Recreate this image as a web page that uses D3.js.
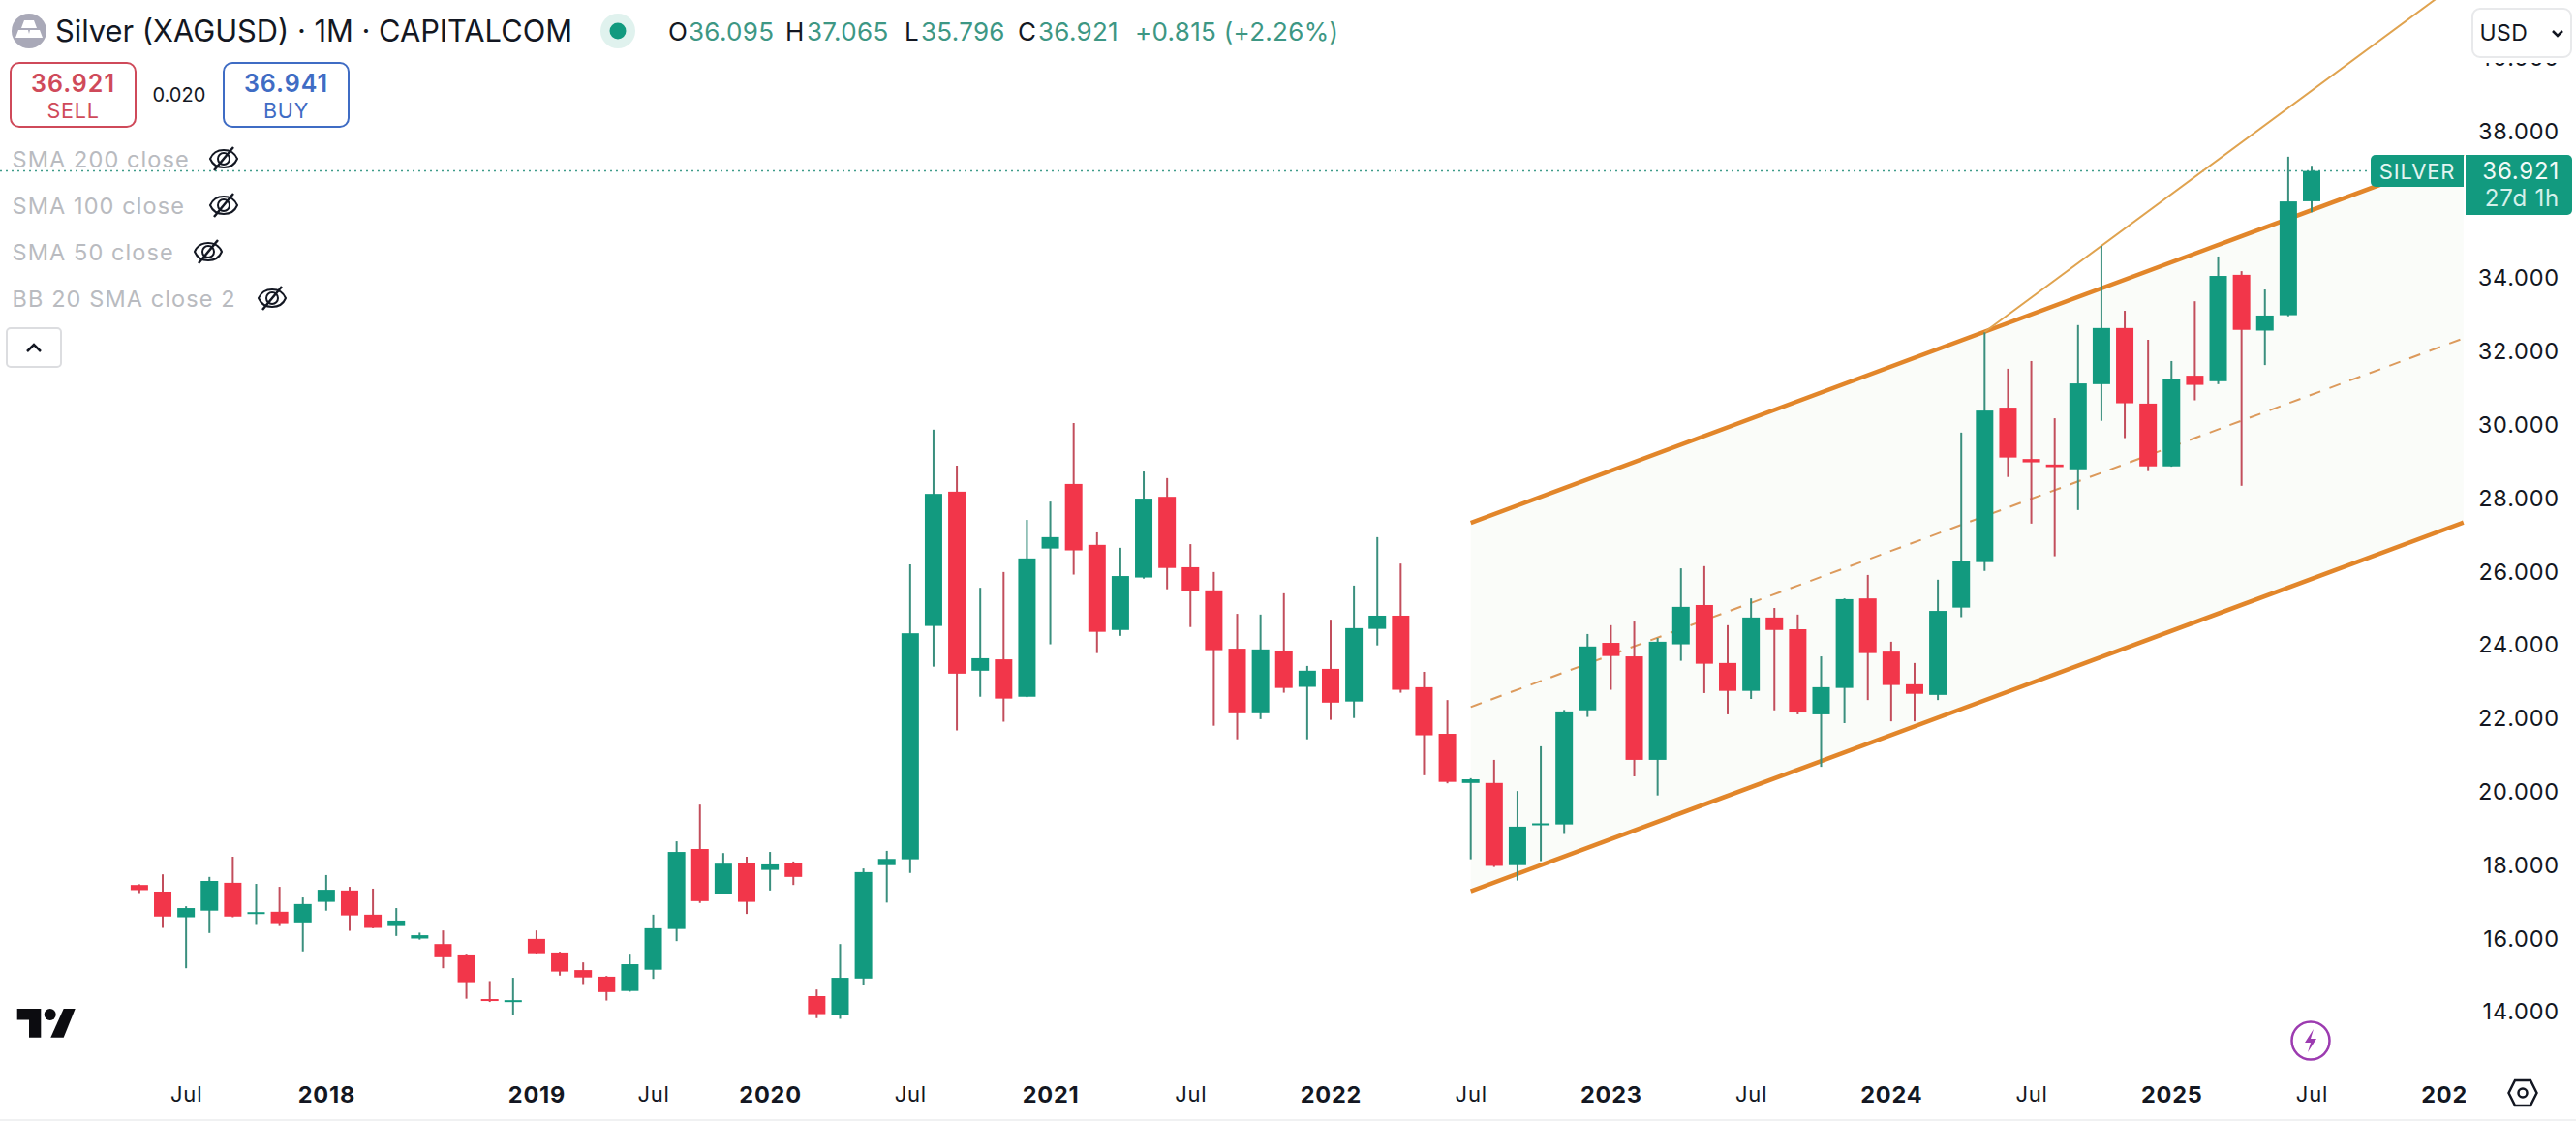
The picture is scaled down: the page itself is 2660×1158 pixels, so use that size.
<!DOCTYPE html>
<html lang="en">
<head>
<meta charset="UTF-8">
<title>Silver (XAGUSD) 1M</title>
<script src="https://d3js.org/d3.v7.min.js"></script>
<style>
  body { margin: 0; background: #fff; }
  svg { display: block; font-family: Inter, sans-serif; }
  .axis path { display: none; }
  .axis text { font-family: Inter, sans-serif; font-size: 23.5px; fill: #131722; letter-spacing: 0.8px; }
  .ind { font-size: 23.5px; fill: #b9bbc0; letter-spacing: 1.1px; }
</style>
</head>
<body>
<div id="chart"></div>
<script>
  // monthly candles, May 2017 onward (the feed skips a few months, so x is by candle number)
  const opens = [17.46,17.28,16.58,16.76,17.52,16.68,16.73,16.44,17.00,17.31,16.65,16.34,16.00,15.85,15.54,14.35,14.28,15.99,15.62,15.14,14.96,14.57,15.15,16.26,18.44,17.21,18.07,17.87,18.07,14.43,13.91,14.91,18.00,18.16,24.52,28.18,23.30,23.61,22.59,26.63,28.39,26.73,24.41,25.84,28.04,26.12,25.49,23.90,22.14,23.85,22.86,23.35,22.46,24.44,24.80,22.85,21.58,20.24,20.24,18.00,19.09,19.11,22.22,24.06,23.69,20.87,24.02,25.09,23.51,22.75,24.75,24.43,22.11,22.83,25.27,23.82,22.93,22.64,25.02,26.26,30.47,29.07,28.92,28.79,31.11,32.64,30.58,28.87,31.34,31.19,34.09,32.57,32.99,36.095];
  const highs = [17.48,17.75,16.88,17.68,18.23,17.49,17.41,17.12,17.73,17.41,17.36,16.83,16.16,16.22,15.56,14.84,14.93,16.22,15.64,15.35,14.98,15.56,16.65,18.65,19.65,18.33,18.23,18.36,18.10,14.61,15.85,17.91,18.39,26.20,29.87,28.89,25.56,25.99,27.41,27.91,30.05,27.07,26.65,28.73,28.55,26.75,25.99,24.85,24.83,25.41,23.43,24.69,25.62,26.94,26.22,23.27,22.50,20.37,20.87,20.02,21.24,22.23,24.30,24.54,24.64,24.19,26.09,26.15,24.54,25.27,25.01,24.83,23.69,25.27,25.91,24.09,23.51,25.78,29.79,32.52,31.53,31.74,30.18,32.72,34.88,33.11,32.32,31.74,33.37,34.59,34.19,33.69,37.31,37.065];
  const lows = [17.24,16.29,15.19,16.15,16.58,16.37,16.34,15.65,16.76,16.21,16.28,16.07,15.97,15.19,14.36,14.27,13.91,15.58,14.99,14.76,14.31,14.55,14.90,15.93,16.97,17.20,16.67,17.31,17.46,13.83,13.81,14.73,16.98,17.79,23.41,21.67,22.59,21.91,22.58,24.02,25.92,23.78,24.25,25.81,25.52,24.49,21.80,21.43,21.98,22.70,21.43,21.96,22.01,23.99,22.70,20.45,20.23,18.16,17.95,17.58,18.11,18.85,22.04,22.78,20.42,19.90,23.57,22.69,22.11,22.53,22.22,22.11,20.68,21.87,22.50,21.92,21.92,22.50,24.76,26.02,28.58,27.31,26.42,27.68,30.11,29.64,28.74,28.86,30.67,31.11,28.34,31.63,32.96,35.796];
  const closes = [17.32,16.60,16.83,17.57,16.60,16.72,16.42,16.94,17.33,16.63,16.29,16.49,16.09,15.49,14.81,14.31,14.32,15.60,15.10,14.94,14.54,15.30,16.28,18.36,17.02,18.04,17.00,18.02,17.68,13.94,14.93,17.81,18.17,24.32,28.12,23.22,23.64,22.54,26.36,26.94,26.58,24.36,25.88,27.99,26.10,25.47,23.86,22.14,23.88,22.83,23.30,22.43,24.46,24.80,22.78,21.54,20.27,20.34,17.98,19.05,19.14,22.19,23.96,23.70,20.87,24.09,25.04,23.49,22.75,24.75,24.41,22.16,22.85,25.25,23.78,22.91,22.67,24.93,26.28,30.39,29.11,28.98,28.85,31.13,32.64,30.59,28.87,31.26,31.09,34.06,32.59,32.98,36.09,36.921];

  // 36.000 is covered by the price tag in the picture, 40.000 is cut off under the currency box
  const priceTicks = [14,16,18,20,22,24,26,28,30,32,34,38,40];
  const timeTickIdx = [2,8,17,22,27,33,39,45,51,57,63,69,75,81,87,93,99];
  const timeTickLabels = ["Jul","2018","2019","Jul","2020","Jul","2021","Jul","2022","Jul","2023","Jul","2024","Jul","2025","Jul","2026"];

  // drawn tools, as [candle number, price]
  const channelUpper = [[57,27.33],[99.5,37.39]];
  const channelLower = [[57,17.29],[99.5,27.34]];
  const channelMid = [[57,22.31],[99.5,32.36]];
  const forkLine = [[79,32.53],[99,41.93]];
  const lastPrice = 36.921;

  const width = 2660, height = 1158;
  const green = "#129a7f", red = "#f2364a", greenWick = "#3a8f7e", redWick = "#c24e5c";
  const orange = "#e2862a";

  const x = d3.scaleLinear().domain([0,93]).range([143.9,2387]);
  const y = d3.scaleLinear().domain([14,38]).range([1045.3,135.7]);

  const svg = d3.select("#chart").append("svg")
    .attr("width", width)
    .attr("height", height);

  const defs = svg.append("defs");
  defs.append("clipPath").attr("id","priceClip").append("rect").attr("x",2500).attr("y",65).attr("width",160).attr("height",1000);
  defs.append("clipPath").attr("id","timeClip").append("rect").attr("x",0).attr("y",1090).attr("width",2546).attr("height",60);

  svg.append("rect").attr("x",0).attr("y",1156).attr("width",width).attr("height",2).attr("fill","#f0f1f2");

  const line = d3.line().x(d => x(d[0])).y(d => y(d[1]));

  // channel fill and lines sit under the candles
  svg.append("path")
    .attr("d", line(channelUpper.concat(channelLower.slice().reverse())) + "Z")
    .attr("fill", "#fafcf9");
  svg.append("line")
    .attr("x1",0).attr("x2",2448)
    .attr("y1",y(lastPrice)).attr("y2",y(lastPrice))
    .attr("stroke","#3f9c8a").attr("stroke-width",1.5).attr("stroke-dasharray","2 4");
  svg.append("path").attr("d", line(channelMid)).attr("fill","none")
    .attr("stroke","#dc9a5c").attr("stroke-width",2).attr("stroke-dasharray","12 10");
  [channelUpper, channelLower].forEach(c => {
    svg.append("path").attr("d", line(c)).attr("fill","none")
      .attr("stroke",orange).attr("stroke-width",4.5);
  });
  svg.append("path").attr("d", line(forkLine)).attr("fill","none")
    .attr("stroke","#e0a34f").attr("stroke-width",2);

  const candles = svg.append("g").selectAll("g")
    .data(opens.map((o,i) => ({i, o, h: highs[i], l: lows[i], c: closes[i]})))
    .join("g");
  candles.append("line")
    .attr("x1", d => x(d.i)).attr("x2", d => x(d.i))
    .attr("y1", d => y(d.h)).attr("y2", d => y(d.l))
    .attr("stroke", d => d.c >= d.o ? greenWick : redWick)
    .attr("stroke-width", 2);
  candles.append("rect")
    .attr("x", d => x(d.i) - 9)
    .attr("width", 18)
    .attr("y", d => y(Math.max(d.o,d.c)))
    .attr("height", d => Math.max(2, Math.abs(y(d.o) - y(d.c))))
    .attr("fill", d => d.c >= d.o ? green : red);

  // axes (clip goes on an outer group so the translate doesn't shift it)
  svg.append("g").attr("clip-path","url(#priceClip)").append("g").attr("class","axis")
    .attr("transform","translate(2643,0)")
    .call(d3.axisRight(y).tickValues(priceTicks).tickSize(0).tickPadding(0).tickFormat(d3.format(".3f")))
    .selectAll("text").attr("text-anchor","end");

  const timeAxis = svg.append("g").attr("clip-path","url(#timeClip)").append("g").attr("class","axis")
    .attr("transform","translate(0,1122)")
    .call(d3.axisBottom(x).tickValues(timeTickIdx).tickSize(0).tickPadding(0)
      .tickFormat(d => timeTickLabels[timeTickIdx.indexOf(d)]));
  timeAxis.selectAll("text")
    .style("font-weight", (d,i) => timeTickLabels[i] === "Jul" ? 400 : 700)
    .style("font-size", (d,i) => timeTickLabels[i] === "Jul" ? "22px" : "23.5px");

  // price tags, wide enough to hide the channel ends behind them
  svg.append("rect").attr("x",2448).attr("y",150).attr("width",98).attr("height",10).attr("fill","#fff");
  svg.append("path").attr("d","M2544,160H2453a5,5 0 0 0 -5,5V188a5,5 0 0 0 5,5H2544Z").attr("fill",green);
  svg.append("path").attr("d","M2546,160H2651a5,5 0 0 1 5,5V217a5,5 0 0 1 -5,5H2546Z").attr("fill",green);
  const tagText = (t,px,py,anchor,col,size) => svg.append("text").text(t).attr("x",px).attr("y",py)
    .attr("text-anchor",anchor).attr("font-size",size).attr("letter-spacing",0.8).attr("fill",col);
  tagText("SILVER",2496,184.5,"middle","#e3f5f1",22);
  tagText("36.921",2643,184.5,"end","#f1faf8",24);
  tagText("27d 1h",2643,213,"end","#d5f0ea",24);

  // header
  svg.append("circle").attr("cx",30).attr("cy",32).attr("r",18).attr("fill","#a9a9b8");
  svg.append("path").attr("d","M25,21H35L38,29H22ZM19,31H29L31,39H16ZM31,31H41L44,39H29Z").attr("fill","#fff");
  svg.append("text").text("Silver (XAGUSD) · 1M · CAPITALCOM").attr("x",57).attr("y",43)
    .attr("font-size",30.8).attr("fill","#131722");
  svg.append("circle").attr("cx",638).attr("cy",32).attr("r",18).attr("fill","#e0f2ee");
  svg.append("circle").attr("cx",638).attr("cy",32).attr("r",8.5).attr("fill","#129a7f");

  const ohlc = [["O",690,"#131722"],["36.095",711,"#3d9784"],["H",811,"#131722"],["37.065",833,"#3d9784"],
    ["L",934,"#131722"],["35.796",951,"#3d9784"],["C",1051,"#131722"],["36.921",1072,"#3d9784"],
    ["+0.815 (+2.26%)",1172,"#3d9784"]];
  ohlc.forEach(t => svg.append("text").text(t[0]).attr("x",t[1]).attr("y",41.7)
    .attr("font-size",26).attr("letter-spacing",0.3).attr("fill",t[2]));

  const tradeBox = (bx,col,price,label) => {
    svg.append("rect").attr("x",bx).attr("y",65).attr("width",129).attr("height",66).attr("rx",9)
      .attr("fill","#fff").attr("stroke",col).attr("stroke-width",2);
    svg.append("text").text(price).attr("x",bx+64.5).attr("y",94.7).attr("text-anchor","middle")
      .attr("font-size",25).attr("font-weight",600).attr("letter-spacing",1).attr("fill",col);
    svg.append("text").text(label).attr("x",bx+64.5).attr("y",121.7).attr("text-anchor","middle")
      .attr("font-size",21.5).attr("letter-spacing",0.8).attr("fill",col);
  };
  tradeBox(11,"#cf4a5a","36.921","SELL");
  tradeBox(231,"#3f6cc4","36.941","BUY");
  svg.append("text").text("0.020").attr("x",157.5).attr("y",105).attr("font-size",20).attr("fill","#131722");

  // hidden indicators
  const eye = (cx,cy) => {
    const g = svg.append("g").attr("transform",`translate(${cx},${cy})`)
      .attr("fill","none").attr("stroke","#131722").attr("stroke-width",2);
    g.append("path").attr("d","M-14,0C-9,-12 9,-12 14,0C9,12 -9,12 -14,0Z");
    g.append("circle").attr("r",6);
    g.append("path").attr("d","M10,-12L-10,12").attr("stroke-width",2.5);
  };
  const indicators = [["SMA 200 close",173.3,231,164],["SMA 100 close",221.3,231,212],
    ["SMA 50 close",269.3,215,260],["BB 20 SMA close 2",317.3,281,308]];
  indicators.forEach(t => {
    svg.append("text").attr("class","ind").text(t[0]).attr("x",12.5).attr("y",t[1]);
    eye(t[2],t[3]);
  });
  svg.append("rect").attr("x",7).attr("y",339).attr("width",56).attr("height",40).attr("rx",4)
    .attr("fill","#fff").attr("stroke","#dcdde0").attr("stroke-width",2);
  svg.append("path").attr("d","M28,363L35,356L42,363").attr("fill","none").attr("stroke","#131722").attr("stroke-width",2.5);

  // currency box
  svg.append("rect").attr("x",2553).attr("y",9).attr("width",102).attr("height",50).attr("rx",8)
    .attr("fill","#fff").attr("stroke","#e8e9eb").attr("stroke-width",2);
  svg.append("text").text("USD").attr("x",2560.5).attr("y",42.3).attr("font-size",23).attr("letter-spacing",0.5).attr("fill","#131722");
  svg.append("path").attr("d","M2636,32L2641,37L2646,32").attr("fill","none").attr("stroke","#131722").attr("stroke-width",2.5);

  // logo
  svg.append("path").attr("d","M17.7,1042H42.3V1071.7H30V1053.5H17.7Z").attr("fill","#0c0c10");
  svg.append("circle").attr("cx",51.7).attr("cy",1048).attr("r",6).attr("fill","#0c0c10");
  svg.append("path").attr("d","M65.7,1042H77.7L65.7,1071.7H52.3Z").attr("fill","#0c0c10");

  // lightning badge
  svg.append("circle").attr("cx",2386).attr("cy",1075).attr("r",19.5).attr("fill","#fff").attr("stroke","#9c3bb0").attr("stroke-width",2.5);
  svg.append("path").attr("d","M2389,1063L2380,1077H2386L2383,1087L2392,1073H2386Z").attr("fill","#9c3bb0");

  // settings hex
  svg.append("path").attr("d","M2590.5,1129L2597,1116H2613L2619.5,1129L2613,1142H2597Z").attr("fill","none").attr("stroke","#131722").attr("stroke-width",2.5);
  svg.append("circle").attr("cx",2605).attr("cy",1129).attr("r",4.5).attr("fill","none").attr("stroke","#131722").attr("stroke-width",2.5);
</script>
</body>
</html>
